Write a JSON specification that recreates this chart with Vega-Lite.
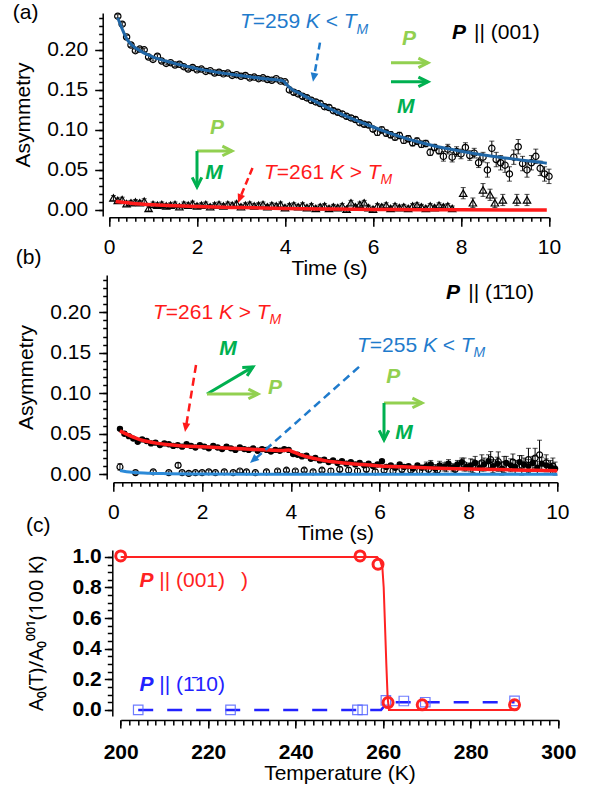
{
"$schema": "https://vega.github.io/schema/vega-lite/v6.json",
"background": "white",
"autosize": {"type": "none"},
"padding": {"left": 112.3, "top": 13, "right": 478.7, "bottom": 774},
"bounds": "flush",
"spacing": 59,
"config": {
 "view": {"stroke": null},
 "axis": {"domainColor": "black", "domainWidth": 1.5, "tickColor": "black", "tickWidth": 1.5, "labelColor": "black", "titleColor": "black", "labelFont": "Liberation Sans", "titleFont": "Liberation Sans", "labelFontSize": 21, "titleFontSize": 21, "titleFontWeight": "normal", "grid": false, "labelOverlap": false, "labelFlush": false, "labelBound": false}
},
"datasets": {
 "a259": [
{"t":0.2,"a":0.242,"e":0.002},{"t":0.3,"a":0.232,"e":0.002},{"t":0.4,"a":0.216,"e":0.002},{"t":0.5,"a":0.206,"e":0.002},{"t":0.6,"a":0.199,"e":0.002},{"t":0.7,"a":0.201,"e":0.002},{"t":0.8,"a":0.2,"e":0.002},{"t":0.9,"a":0.191,"e":0.002},{"t":1.0,"a":0.188,"e":0.002},{"t":1.1,"a":0.192,"e":0.002},{"t":1.2,"a":0.186,"e":0.002},{"t":1.3,"a":0.183,"e":0.002},{"t":1.4,"a":0.184,"e":0.002},{"t":1.5,"a":0.181,"e":0.002},{"t":1.6,"a":0.182,"e":0.002},{"t":1.7,"a":0.179,"e":0.002},{"t":1.8,"a":0.176,"e":0.002},{"t":1.9,"a":0.178,"e":0.002},{"t":2.0,"a":0.175,"e":0.002},{"t":2.1,"a":0.176,"e":0.002},{"t":2.2,"a":0.173,"e":0.002},{"t":2.3,"a":0.174,"e":0.002},{"t":2.4,"a":0.171,"e":0.002},{"t":2.5,"a":0.172,"e":0.002},{"t":2.6,"a":0.17,"e":0.002},{"t":2.7,"a":0.171,"e":0.002},{"t":2.8,"a":0.168,"e":0.002},{"t":2.9,"a":0.169,"e":0.002},{"t":3.0,"a":0.167,"e":0.002},{"t":3.1,"a":0.168,"e":0.002},{"t":3.2,"a":0.165,"e":0.002},{"t":3.3,"a":0.166,"e":0.002},{"t":3.4,"a":0.164,"e":0.002},{"t":3.5,"a":0.165,"e":0.002},{"t":3.6,"a":0.163,"e":0.002},{"t":3.7,"a":0.162,"e":0.002},{"t":3.8,"a":0.164,"e":0.002},{"t":3.9,"a":0.161,"e":0.002},{"t":4.0,"a":0.16,"e":0.002},{"t":4.1,"a":0.15,"e":0.003},{"t":4.2,"a":0.147,"e":0.003},{"t":4.3,"a":0.145,"e":0.003},{"t":4.4,"a":0.142,"e":0.003},{"t":4.5,"a":0.14,"e":0.003},{"t":4.6,"a":0.137,"e":0.003},{"t":4.7,"a":0.135,"e":0.003},{"t":4.8,"a":0.133,"e":0.003},{"t":4.9,"a":0.129,"e":0.003},{"t":5.0,"a":0.128,"e":0.003},{"t":5.1,"a":0.124,"e":0.003},{"t":5.2,"a":0.122,"e":0.003},{"t":5.3,"a":0.12,"e":0.003},{"t":5.4,"a":0.117,"e":0.003},{"t":5.5,"a":0.115,"e":0.003},{"t":5.6,"a":0.113,"e":0.003},{"t":5.7,"a":0.109,"e":0.003},{"t":5.8,"a":0.107,"e":0.003},{"t":5.9,"a":0.106,"e":0.003},{"t":6.0,"a":0.101,"e":0.003},{"t":6.1,"a":0.097,"e":0.004},{"t":6.2,"a":0.1,"e":0.004},{"t":6.3,"a":0.096,"e":0.004},{"t":6.4,"a":0.094,"e":0.004},{"t":6.5,"a":0.091,"e":0.004},{"t":6.6,"a":0.093,"e":0.004},{"t":6.7,"a":0.087,"e":0.004},{"t":6.8,"a":0.089,"e":0.004},{"t":6.9,"a":0.084,"e":0.004},{"t":7.0,"a":0.086,"e":0.004},{"t":7.1,"a":0.082,"e":0.004},{"t":7.2,"a":0.083,"e":0.004},{"t":7.3,"a":0.072,"e":0.004},{"t":7.4,"a":0.078,"e":0.004},{"t":7.5,"a":0.074,"e":0.004},{"t":7.6,"a":0.067,"e":0.006},{"t":7.7,"a":0.076,"e":0.006},{"t":7.8,"a":0.066,"e":0.006},{"t":7.9,"a":0.073,"e":0.006},{"t":8.0,"a":0.07,"e":0.006},{"t":8.1,"a":0.078,"e":0.006},{"t":8.2,"a":0.068,"e":0.006},{"t":8.3,"a":0.071,"e":0.006},{"t":8.4,"a":0.059,"e":0.006},{"t":8.5,"a":0.066,"e":0.006},{"t":8.6,"a":0.05,"e":0.009},{"t":8.7,"a":0.077,"e":0.009},{"t":8.8,"a":0.063,"e":0.009},{"t":8.9,"a":0.059,"e":0.009},{"t":9.0,"a":0.056,"e":0.009},{"t":9.1,"a":0.045,"e":0.009},{"t":9.2,"a":0.066,"e":0.009},{"t":9.3,"a":0.079,"e":0.009},{"t":9.4,"a":0.058,"e":0.009},{"t":9.5,"a":0.05,"e":0.009},{"t":9.6,"a":0.059,"e":0.009},{"t":9.7,"a":0.067,"e":0.009},{"t":9.8,"a":0.052,"e":0.009},{"t":9.9,"a":0.045,"e":0.009},{"t":10.0,"a":0.042,"e":0.009}
 ],
 "a259fit": [
{"t":0.2,"a":0.24},{"t":0.3,"a":0.226},{"t":0.4,"a":0.214},{"t":0.5,"a":0.207},{"t":0.6,"a":0.2025},{"t":0.7,"a":0.199},{"t":0.8,"a":0.196},{"t":0.9,"a":0.1935},{"t":1.0,"a":0.191},{"t":1.2,"a":0.1875},{"t":1.4,"a":0.1845},{"t":1.6,"a":0.1815},{"t":1.8,"a":0.179},{"t":2.0,"a":0.1765},{"t":2.4,"a":0.1725},{"t":2.8,"a":0.1693},{"t":3.2,"a":0.1663},{"t":3.6,"a":0.1635},{"t":3.95,"a":0.1615},{"t":4.05,"a":0.156},{"t":4.15,"a":0.151},{"t":4.3,"a":0.1465},{"t":4.6,"a":0.138},{"t":5.0,"a":0.127},{"t":5.4,"a":0.117},{"t":5.8,"a":0.108},{"t":6.2,"a":0.0995},{"t":6.6,"a":0.092},{"t":7.0,"a":0.0855},{"t":7.4,"a":0.08},{"t":7.8,"a":0.0755},{"t":8.2,"a":0.0715},{"t":8.6,"a":0.068},{"t":9.0,"a":0.065},{"t":9.4,"a":0.0622},{"t":9.8,"a":0.0595},{"t":9.95,"a":0.0585}
 ],
 "a261": [
{"t":0.1,"a":0.015,"e":0.003},{"t":0.2,"a":0.012,"e":0.003},{"t":0.3,"a":0.013,"e":0.003},{"t":0.4,"a":0.008,"e":0.003},{"t":0.5,"a":0.009,"e":0.003},{"t":0.6,"a":0.01,"e":0.003},{"t":0.7,"a":0.009,"e":0.003},{"t":0.8,"a":0.011,"e":0.003},{"t":0.9,"a":0.002,"e":0.003},{"t":1.0,"a":0.007,"e":0.003},{"t":1.1,"a":0.006,"e":0.003},{"t":1.2,"a":0.007,"e":0.003},{"t":1.3,"a":0.005,"e":0.003},{"t":1.4,"a":0.006,"e":0.003},{"t":1.5,"a":0.007,"e":0.003},{"t":1.6,"a":0.004,"e":0.003},{"t":1.7,"a":0.007,"e":0.003},{"t":1.8,"a":0.006,"e":0.003},{"t":1.9,"a":0.008,"e":0.003},{"t":2.0,"a":0.005,"e":0.003},{"t":2.1,"a":0.006,"e":0.003},{"t":2.2,"a":0.007,"e":0.003},{"t":2.3,"a":0.004,"e":0.003},{"t":2.4,"a":0.006,"e":0.003},{"t":2.5,"a":0.007,"e":0.003},{"t":2.6,"a":0.005,"e":0.003},{"t":2.7,"a":0.007,"e":0.003},{"t":2.8,"a":0.006,"e":0.003},{"t":2.9,"a":0.008,"e":0.003},{"t":3.0,"a":0.004,"e":0.003},{"t":3.1,"a":0.006,"e":0.003},{"t":3.2,"a":0.007,"e":0.003},{"t":3.3,"a":0.005,"e":0.003},{"t":3.4,"a":0.006,"e":0.003},{"t":3.5,"a":0.007,"e":0.003},{"t":3.6,"a":0.004,"e":0.003},{"t":3.7,"a":0.006,"e":0.003},{"t":3.8,"a":0.005,"e":0.003},{"t":3.9,"a":0.007,"e":0.003},{"t":4.0,"a":0.003,"e":0.003},{"t":4.1,"a":0.005,"e":0.003},{"t":4.2,"a":0.006,"e":0.003},{"t":4.3,"a":0.004,"e":0.003},{"t":4.4,"a":0.006,"e":0.003},{"t":4.5,"a":0.003,"e":0.003},{"t":4.6,"a":0.005,"e":0.003},{"t":4.7,"a":0.002,"e":0.003},{"t":4.8,"a":0.004,"e":0.003},{"t":4.9,"a":0.005,"e":0.003},{"t":5.0,"a":0.002,"e":0.003},{"t":5.1,"a":0.004,"e":0.003},{"t":5.2,"a":0.003,"e":0.003},{"t":5.3,"a":0.005,"e":0.003},{"t":5.4,"a":0.001,"e":0.003},{"t":5.5,"a":0.009,"e":0.003},{"t":5.6,"a":0.004,"e":0.003},{"t":5.7,"a":0.007,"e":0.003},{"t":5.8,"a":0.009,"e":0.003},{"t":5.9,"a":0.003,"e":0.003},{"t":6.0,"a":0.001,"e":0.003},{"t":6.1,"a":0.005,"e":0.003},{"t":6.2,"a":0.004,"e":0.003},{"t":6.3,"a":0.006,"e":0.003},{"t":6.4,"a":0.002,"e":0.003},{"t":6.5,"a":0.005,"e":0.003},{"t":6.6,"a":0.003,"e":0.003},{"t":6.7,"a":0.004,"e":0.003},{"t":6.8,"a":0.002,"e":0.003},{"t":6.9,"a":0.005,"e":0.003},{"t":7.0,"a":0.006,"e":0.003},{"t":7.1,"a":0.004,"e":0.003},{"t":7.2,"a":0.002,"e":0.003},{"t":7.3,"a":0.005,"e":0.003},{"t":7.4,"a":0.003,"e":0.003},{"t":7.5,"a":0.006,"e":0.003},{"t":7.6,"a":0.004,"e":0.003},{"t":7.7,"a":0.005,"e":0.003},{"t":7.8,"a":0.002,"e":0.003},{"t":8.05,"a":0.021,"e":0.007},{"t":8.27,"a":0.009,"e":0.006},{"t":8.5,"a":0.025,"e":0.008},{"t":8.66,"a":0.019,"e":0.007},{"t":8.77,"a":0.009,"e":0.006},{"t":8.95,"a":0.0125,"e":0.007},{"t":9.27,"a":0.0125,"e":0.007},{"t":9.5,"a":0.0125,"e":0.007}
 ],
 "a261fit": [
{"t":0.15,"a":0.0105},{"t":0.5,"a":0.0085},{"t":1,"a":0.0065},{"t":1.5,"a":0.0052},{"t":2,"a":0.0043},{"t":3,"a":0.003},{"t":4,"a":0.002},{"t":5,"a":0.0012},{"t":6,"a":0.0007},{"t":7,"a":0.0004},{"t":8,"a":0.0002},{"t":9.95,"a":0}
 ],
 "b261": [
{"t":0.15,"a":0.056,"e":0.002},{"t":0.25,"a":0.05,"e":0.002},{"t":0.35,"a":0.047,"e":0.002},{"t":0.45,"a":0.044,"e":0.002},{"t":0.55,"a":0.04,"e":0.002},{"t":0.65,"a":0.043,"e":0.002},{"t":0.75,"a":0.041,"e":0.002},{"t":0.85,"a":0.038,"e":0.002},{"t":0.95,"a":0.039,"e":0.002},{"t":1.05,"a":0.036,"e":0.002},{"t":1.15,"a":0.038,"e":0.002},{"t":1.25,"a":0.037,"e":0.002},{"t":1.35,"a":0.035,"e":0.002},{"t":1.45,"a":0.036,"e":0.002},{"t":1.55,"a":0.034,"e":0.002},{"t":1.65,"a":0.037,"e":0.002},{"t":1.75,"a":0.035,"e":0.002},{"t":1.85,"a":0.033,"e":0.002},{"t":1.95,"a":0.036,"e":0.002},{"t":2.05,"a":0.034,"e":0.002},{"t":2.15,"a":0.032,"e":0.002},{"t":2.25,"a":0.035,"e":0.002},{"t":2.35,"a":0.033,"e":0.002},{"t":2.45,"a":0.031,"e":0.002},{"t":2.55,"a":0.034,"e":0.002},{"t":2.65,"a":0.032,"e":0.002},{"t":2.75,"a":0.03,"e":0.002},{"t":2.85,"a":0.033,"e":0.002},{"t":2.95,"a":0.031,"e":0.002},{"t":3.05,"a":0.03,"e":0.002},{"t":3.15,"a":0.032,"e":0.002},{"t":3.25,"a":0.029,"e":0.002},{"t":3.35,"a":0.031,"e":0.002},{"t":3.45,"a":0.03,"e":0.002},{"t":3.55,"a":0.028,"e":0.002},{"t":3.65,"a":0.03,"e":0.002},{"t":3.75,"a":0.029,"e":0.002},{"t":3.85,"a":0.031,"e":0.002},{"t":3.95,"a":0.03,"e":0.002},{"t":4.05,"a":0.025,"e":0.002},{"t":4.15,"a":0.024,"e":0.002},{"t":4.25,"a":0.022,"e":0.002},{"t":4.35,"a":0.023,"e":0.002},{"t":4.45,"a":0.019,"e":0.002},{"t":4.55,"a":0.02,"e":0.002},{"t":4.65,"a":0.017,"e":0.002},{"t":4.75,"a":0.018,"e":0.002},{"t":4.85,"a":0.015,"e":0.002},{"t":4.95,"a":0.017,"e":0.002},{"t":5.05,"a":0.014,"e":0.002},{"t":5.15,"a":0.016,"e":0.002},{"t":5.25,"a":0.013,"e":0.002},{"t":5.35,"a":0.015,"e":0.002},{"t":5.45,"a":0.012,"e":0.002},{"t":5.55,"a":0.014,"e":0.002},{"t":5.65,"a":0.011,"e":0.002},{"t":5.75,"a":0.013,"e":0.002},{"t":5.85,"a":0.01,"e":0.002},{"t":5.95,"a":0.012,"e":0.002},{"t":6.05,"a":0.016,"e":0.002},{"t":6.15,"a":0.009,"e":0.002},{"t":6.25,"a":0.011,"e":0.002},{"t":6.35,"a":0.008,"e":0.002},{"t":6.45,"a":0.012,"e":0.002},{"t":6.55,"a":0.009,"e":0.002},{"t":6.65,"a":0.01,"e":0.002},{"t":6.75,"a":0.007,"e":0.002},{"t":6.85,"a":0.011,"e":0.002},{"t":6.95,"a":0.008,"e":0.002},{"t":7.05,"a":0.01,"e":0.005},{"t":7.15,"a":0.012,"e":0.005},{"t":7.25,"a":0.007,"e":0.005},{"t":7.35,"a":0.011,"e":0.005},{"t":7.45,"a":0.009,"e":0.005},{"t":7.55,"a":0.013,"e":0.005},{"t":7.65,"a":0.008,"e":0.005},{"t":7.75,"a":0.012,"e":0.005},{"t":7.85,"a":0.015,"e":0.005},{"t":7.95,"a":0.009,"e":0.005},{"t":8.05,"a":0.011,"e":0.008},{"t":8.15,"a":0.014,"e":0.008},{"t":8.25,"a":0.008,"e":0.008},{"t":8.35,"a":0.012,"e":0.008},{"t":8.45,"a":0.016,"e":0.008},{"t":8.55,"a":0.01,"e":0.008},{"t":8.65,"a":0.013,"e":0.008},{"t":8.75,"a":0.007,"e":0.008},{"t":8.85,"a":0.014,"e":0.008},{"t":8.95,"a":0.011,"e":0.008},{"t":9.05,"a":0.009,"e":0.008},{"t":9.15,"a":0.015,"e":0.008},{"t":9.25,"a":0.012,"e":0.008},{"t":9.35,"a":0.01,"e":0.008},{"t":9.45,"a":0.014,"e":0.008},{"t":9.55,"a":0.008,"e":0.008},{"t":9.65,"a":0.013,"e":0.008},{"t":9.75,"a":0.011,"e":0.008},{"t":9.85,"a":0.009,"e":0.008},{"t":9.95,"a":0.007,"e":0.008}
 ],
 "b261fit": [
{"t":0.15,"a":0.0535},{"t":0.3,"a":0.0495},{"t":0.45,"a":0.0458},{"t":0.6,"a":0.0428},{"t":0.8,"a":0.04},{"t":1.0,"a":0.0381},{"t":1.2,"a":0.0367},{"t":1.5,"a":0.0352},{"t":2.0,"a":0.0338},{"t":2.5,"a":0.0325},{"t":3.0,"a":0.0312},{"t":3.5,"a":0.0298},{"t":3.8,"a":0.0292},{"t":3.95,"a":0.0298},{"t":4.05,"a":0.0275},{"t":4.2,"a":0.0243},{"t":4.5,"a":0.0197},{"t":4.8,"a":0.0165},{"t":5.2,"a":0.0139},{"t":5.6,"a":0.012},{"t":6.0,"a":0.0103},{"t":6.5,"a":0.0091},{"t":7.0,"a":0.0081},{"t":7.5,"a":0.0072},{"t":8.0,"a":0.0065},{"t":8.5,"a":0.0059},{"t":9.0,"a":0.0053},{"t":9.5,"a":0.0048},{"t":10.0,"a":0.0043}
 ],
 "b255": [
{"t":0.15,"a":0.009,"e":0.004},{"t":0.5,"a":0.002,"e":0.002},{"t":0.9,"a":0.003,"e":0.002},{"t":1.25,"a":0.002,"e":0.002},{"t":1.46,"a":0.011,"e":0.003},{"t":1.55,"a":0.002,"e":0.002},{"t":1.7,"a":0.001,"e":0.002},{"t":1.85,"a":0.002,"e":0.002},{"t":2.0,"a":0.002,"e":0.002},{"t":2.15,"a":0.003,"e":0.002},{"t":2.3,"a":0.002,"e":0.002},{"t":2.5,"a":0.003,"e":0.002},{"t":2.7,"a":0.002,"e":0.002},{"t":2.85,"a":0.004,"e":0.002},{"t":3.0,"a":0.003,"e":0.002},{"t":3.2,"a":0.002,"e":0.002},{"t":3.45,"a":0.003,"e":0.002},{"t":3.7,"a":0.004,"e":0.002},{"t":3.9,"a":0.005,"e":0.002},{"t":4.1,"a":0.004,"e":0.002},{"t":4.3,"a":0.005,"e":0.002},{"t":4.5,"a":0.003,"e":0.002},{"t":4.7,"a":0.005,"e":0.002},{"t":4.9,"a":0.004,"e":0.003},{"t":5.1,"a":0.006,"e":0.003},{"t":5.3,"a":0.005,"e":0.003},{"t":5.5,"a":0.004,"e":0.003},{"t":5.7,"a":0.006,"e":0.003},{"t":5.9,"a":0.003,"e":0.003},{"t":6.1,"a":0.005,"e":0.003},{"t":6.3,"a":0.004,"e":0.003},{"t":6.5,"a":0.006,"e":0.004},{"t":6.7,"a":0.005,"e":0.004},{"t":6.9,"a":0.004,"e":0.004},{"t":7.1,"a":0.006,"e":0.005},{"t":7.3,"a":0.005,"e":0.005},{"t":7.5,"a":0.009,"e":0.006},{"t":7.7,"a":0.006,"e":0.006},{"t":7.9,"a":0.012,"e":0.008},{"t":8.1,"a":0.01,"e":0.008},{"t":8.3,"a":0.014,"e":0.01},{"t":8.5,"a":0.018,"e":0.01},{"t":8.67,"a":0.0156,"e":0.012},{"t":8.8,"a":0.012,"e":0.01},{"t":9.0,"a":0.015,"e":0.01},{"t":9.2,"a":0.011,"e":0.012},{"t":9.35,"a":0.018,"e":0.014},{"t":9.5,"a":0.02,"e":0.012},{"t":9.6,"a":0.024,"e":0.018},{"t":9.75,"a":0.014,"e":0.01},{"t":9.9,"a":0.01,"e":0.01}
 ],
 "b255fit": [
{"t":0.15,"a":0.0045},{"t":0.3,"a":0.003},{"t":0.5,"a":0.002},{"t":0.8,"a":0.0012},{"t":1.2,"a":0.0007},{"t":2,"a":0.0003},{"t":3,"a":0.0001},{"t":5,"a":0},{"t":10,"a":0}
 ],
 "c001": [
{"T":200,"v":1.006},{"T":254.7,"v":1.006},{"T":258.8,"v":0.952},{"T":261.1,"v":0.048},{"T":268.9,"v":0.033},{"T":290,"v":0.033}
 ],
 "c001fit": [
{"T":200,"v":1.0},{"T":258.6,"v":1.0},{"T":259.3,"v":0.975},{"T":259.8,"v":0.93},{"T":260.1,"v":0.8},{"T":260.4,"v":0.55},{"T":260.7,"v":0.3},{"T":261.0,"v":0.08},{"T":261.3,"v":0.0},{"T":290,"v":0.0}
 ],
 "c110": [
{"T":204,"v":0.0},{"T":225.1,"v":0.0},{"T":254.1,"v":0.0},{"T":255.3,"v":0.0},{"T":260.6,"v":0.062},{"T":264.7,"v":0.058},{"T":269.6,"v":0.05},{"T":290,"v":0.059}
 ],
 "c110fit": [
{"T":204,"v":0},{"T":259.5,"v":0},{"T":261,"v":0.05},{"T":290,"v":0.05}
 ],
 "txt": [
{"p":"a","x":2.977,"y":0.235,"s":"T","c":"blue","f":"it"},
{"p":"a","x":3.268,"y":0.235,"s":"=259","c":"blue","f":"up"},
{"p":"a","x":4.473,"y":0.235,"s":"K","c":"blue","f":"it"},
{"p":"a","x":4.925,"y":0.235,"s":"<","c":"blue","f":"up"},
{"p":"a","x":5.336,"y":0.235,"s":"T","c":"blue","f":"it"},
{"p":"a","x":5.625,"y":0.225,"s":"M","c":"blue","f":"sub"},
{"p":"a","x":3.523,"y":0.04625,"s":"T","c":"red","f":"it"},
{"p":"a","x":3.814,"y":0.04625,"s":"=261","c":"red","f":"up"},
{"p":"a","x":5.02,"y":0.04625,"s":"K","c":"red","f":"it"},
{"p":"a","x":5.47,"y":0.04625,"s":">","c":"red","f":"up"},
{"p":"a","x":5.882,"y":0.04625,"s":"T","c":"red","f":"it"},
{"p":"a","x":6.173,"y":0.0375,"s":"M","c":"red","f":"sub"},
{"p":"a","x":2.455,"y":0.1025,"s":"P","c":"lgreen","f":"bic"},
{"p":"a","x":2.386,"y":0.04625,"s":"M","c":"dgreen","f":"bic"},
{"p":"a","x":6.818,"y":0.21375,"s":"P","c":"lgreen","f":"bic"},
{"p":"a","x":6.743,"y":0.129,"s":"M","c":"dgreen","f":"bic"},
{"p":"a","x":7.795,"y":0.221,"s":"P","c":"black","f":"bi"},
{"p":"a","x":8.295,"y":0.221,"s":"|| (001)","c":"black","f":"up"},
{"p":"b","x":7.493,"y":0.2238,"s":"P","c":"black","f":"bi"},
{"p":"b","x":7.995,"y":0.2238,"s":"|| (1\u030410)","c":"black","f":"up"},
{"p":"b","x":0.896,"y":0.1991,"s":"T","c":"red","f":"it"},
{"p":"b","x":1.182,"y":0.1991,"s":"=261","c":"red","f":"up"},
{"p":"b","x":2.378,"y":0.1991,"s":"K","c":"red","f":"it"},
{"p":"b","x":2.824,"y":0.1991,"s":">","c":"red","f":"up"},
{"p":"b","x":3.232,"y":0.1991,"s":"T","c":"red","f":"it"},
{"p":"b","x":3.52,"y":0.1905,"s":"M","c":"red","f":"sub"},
{"p":"b","x":5.489,"y":0.1584,"s":"T","c":"blue","f":"it"},
{"p":"b","x":5.777,"y":0.1584,"s":"=255","c":"blue","f":"up"},
{"p":"b","x":6.973,"y":0.1584,"s":"K","c":"blue","f":"it"},
{"p":"b","x":7.419,"y":0.1584,"s":"<","c":"blue","f":"up"},
{"p":"b","x":7.827,"y":0.1584,"s":"T","c":"blue","f":"it"},
{"p":"b","x":8.115,"y":0.1498,"s":"M","c":"blue","f":"sub"},
{"p":"b","x":2.583,"y":0.1543,"s":"M","c":"dgreen","f":"bic"},
{"p":"b","x":3.642,"y":0.1062,"s":"P","c":"lgreen","f":"bic"},
{"p":"b","x":6.306,"y":0.1198,"s":"P","c":"lgreen","f":"bic"},
{"p":"b","x":6.547,"y":0.0514,"s":"M","c":"dgreen","f":"bic"},
{"p":"c","x":204.3,"y":0.84,"s":"P","c":"cred","f":"bi"},
{"p":"c","x":208.8,"y":0.84,"s":"|| (001)","c":"cred","f":"up"},
{"p":"c","x":227.5,"y":0.84,"s":")","c":"cred","f":"up"},
{"p":"c","x":204.3,"y":0.164,"s":"P","c":"cblue","f":"bi"},
{"p":"c","x":208.8,"y":0.164,"s":"|| (1\u030410)","c":"cblue","f":"up"}
 ],
 "arrows": [
{"p":"a","x":4.795,"y":0.209,"x2":4.659,"y2":0.166,"tx":4.636,"ty":0.16,"c":"blue","k":"dash","hd":100},
{"p":"a","x":3.261,"y":0.0525,"x2":2.977,"y2":0.015,"tx":2.932,"ty":0.00875,"c":"red","k":"dash","hd":112},
{"p":"a","x":6.409,"y":0.18375,"x2":7.25,"y2":0.18375,"tx":7.25,"ty":0.18375,"c":"lgreen","k":"solid","hd":0},
{"p":"a","x":6.409,"y":0.16,"x2":7.25,"y2":0.16,"tx":7.25,"ty":0.16,"c":"dgreen","k":"solid","hd":0},
{"p":"a","x":2.0,"y":0.07375,"x2":2.795,"y2":0.07375,"tx":2.795,"ty":0.07375,"c":"lgreen","k":"solid","hd":0},
{"p":"a","x":2.0,"y":0.07375,"x2":2.0,"y2":0.02875,"tx":2.0,"ty":0.02875,"c":"dgreen","k":"solid","hd":90},
{"p":"b","x":1.863,"y":0.1349,"x2":1.637,"y2":0.0584,"tx":1.615,"ty":0.0522,"c":"red","k":"dash","hd":99},
{"p":"b","x":5.534,"y":0.1325,"x2":3.169,"y2":0.01765,"tx":3.079,"ty":0.01395,"c":"blue","k":"dash","hd":139},
{"p":"b","x":2.11,"y":0.0991,"x2":3.146,"y2":0.1325,"tx":3.146,"ty":0.1325,"c":"dgreen","k":"solid","hd":330},
{"p":"b","x":2.11,"y":0.0991,"x2":3.259,"y2":0.0991,"tx":3.259,"ty":0.0991,"c":"lgreen","k":"solid","hd":0},
{"p":"b","x":6.097,"y":0.088,"x2":6.953,"y2":0.088,"tx":6.953,"ty":0.088,"c":"lgreen","k":"solid","hd":0},
{"p":"b","x":6.097,"y":0.088,"x2":6.097,"y2":0.0423,"tx":6.097,"ty":0.0423,"c":"dgreen","k":"solid","hd":90}
 ]
},
"vconcat": [
{
 "width": 446, "height": 203,
 "title": {"text": "(a)", "anchor": "start", "frame": "bounds", "baseline": "middle", "offset": -23, "fontSize": 21, "fontWeight": "normal", "font": "Liberation Sans", "color": "black"},
 "resolve": {"axis": {"x": "independent", "y": "independent"}},
 "layer": [
  {"data": {"name": "a259"}, "mark": {"type": "errorbar", "ticks": true, "size": 5, "thickness": 1, "color": "black"},
   "encoding": {"x": {"field": "t", "type": "quantitative", "axis": null}, "y": {"field": "a", "type": "quantitative", "axis": null}, "yError": {"field": "e"}}},
  {"data": {"name": "a259"}, "mark": {"type": "point", "shape": "circle", "filled": false, "color": "black", "strokeWidth": 1.2, "size": 40, "opacity": 1},
   "encoding": {
    "x": {"field": "t", "type": "quantitative", "scale": {"domain": [0, 10], "range": [-3.3, 436.7], "nice": false, "zero": false},
     "axis": {"orient": "bottom", "title": "Time (s)", "values": [0,2,4,6,8,10], "format": "d", "offset": 1.3, "tickSize": 9, "labelPadding": 10, "titlePadding": 0}},
    "y": {"field": "a", "type": "quantitative", "scale": {"domain": [-0.0075, 0.246], "nice": false, "zero": false},
     "axis": {"orient": "left", "title": "Asymmetry", "values": [0,0.05,0.1,0.15,0.2], "format": ".2f", "offset": 9.6, "tickSize": 8, "labelPadding": 7, "titlePadding": 13}}
   }},
  {"data": {"name": "a261"}, "mark": {"type": "errorbar", "ticks": true, "size": 5, "thickness": 1, "color": "black"},
   "encoding": {"x": {"field": "t", "type": "quantitative", "axis": null}, "y": {"field": "a", "type": "quantitative", "axis": null}, "yError": {"field": "e"}}},
  {"data": {"name": "a261"}, "mark": {"type": "point", "shape": "triangle-up", "filled": false, "color": "black", "strokeWidth": 1.2, "size": 55, "opacity": 1},
   "encoding": {"x": {"field": "t", "type": "quantitative", "axis": null}, "y": {"field": "a", "type": "quantitative", "axis": null}}},
  {"data": {"name": "a259fit"}, "mark": {"type": "line", "color": "#1f66a6", "strokeWidth": 3, "interpolate": "monotone"},
   "encoding": {
    "x": {"field": "t", "type": "quantitative", "axis": {"orient": "bottom", "values": [0,0.2,0.4,0.6,0.8,1,1.2,1.4,1.6,1.8,2,2.2,2.4,2.6,2.8,3,3.2,3.4,3.6,3.8,4,4.2,4.4,4.6,4.8,5,5.2,5.4,5.6,5.8,6,6.2,6.4,6.6,6.8,7,7.2,7.4,7.6,7.8,8,8.2,8.4,8.6,8.8,9,9.2,9.4,9.6,9.8,10], "labels": false, "domain": false, "title": null, "tickSize": 4, "offset": 1.3}},
    "y": {"field": "a", "type": "quantitative", "axis": {"orient": "left", "values": [0,0.01,0.02,0.03,0.04,0.05,0.06,0.07,0.08,0.09,0.1,0.11,0.12,0.13,0.14,0.15,0.16,0.17,0.18,0.19,0.2,0.21,0.22,0.23,0.24], "labels": false, "domain": false, "title": null, "tickSize": 4, "offset": 9.6}}}},
  {"data": {"name": "a261fit"}, "mark": {"type": "line", "color": "#ff1a1a", "strokeWidth": 3.5, "interpolate": "monotone"},
   "encoding": {"x": {"field": "t", "type": "quantitative", "axis": null}, "y": {"field": "a", "type": "quantitative", "axis": null}}},
  {"data": {"name": "txt"}, "transform": [{"filter": "datum.p==='a' && datum.f==='it'"}],
   "mark": {"type": "text", "font": "Liberation Sans", "fontSize": 21, "fontStyle": "italic", "align": "left", "baseline": "middle"},
   "encoding": {"x": {"field": "x", "type": "quantitative", "axis": null}, "y": {"field": "y", "type": "quantitative", "axis": null}, "text": {"field": "s"},
    "color": {"field": "c", "type": "nominal", "legend": null, "scale": {"domain": ["blue","red","lgreen","dgreen","black","cred","cblue"], "range": ["#1f7bcc","#ff1a1a","#92d050","#00b050","#000000","#ff2222","#2222ff"]}}}},
  {"data": {"name": "txt"}, "transform": [{"filter": "datum.p==='a' && datum.f==='up'"}],
   "mark": {"type": "text", "font": "Liberation Sans", "fontSize": 21, "align": "left", "baseline": "middle"},
   "encoding": {"x": {"field": "x", "type": "quantitative", "axis": null}, "y": {"field": "y", "type": "quantitative", "axis": null}, "text": {"field": "s"},
    "color": {"field": "c", "type": "nominal", "legend": null, "scale": {"domain": ["blue","red","lgreen","dgreen","black","cred","cblue"], "range": ["#1f7bcc","#ff1a1a","#92d050","#00b050","#000000","#ff2222","#2222ff"]}}}},
  {"data": {"name": "txt"}, "transform": [{"filter": "datum.p==='a' && datum.f==='sub'"}],
   "mark": {"type": "text", "font": "Liberation Sans", "fontSize": 14, "fontStyle": "italic", "align": "left", "baseline": "middle"},
   "encoding": {"x": {"field": "x", "type": "quantitative", "axis": null}, "y": {"field": "y", "type": "quantitative", "axis": null}, "text": {"field": "s"},
    "color": {"field": "c", "type": "nominal", "legend": null, "scale": {"domain": ["blue","red","lgreen","dgreen","black","cred","cblue"], "range": ["#1f7bcc","#ff1a1a","#92d050","#00b050","#000000","#ff2222","#2222ff"]}}}},
  {"data": {"name": "txt"}, "transform": [{"filter": "datum.p==='a' && datum.f==='bi'"}],
   "mark": {"type": "text", "font": "Liberation Sans", "fontSize": 21, "fontStyle": "italic", "fontWeight": "bold", "align": "left", "baseline": "middle"},
   "encoding": {"x": {"field": "x", "type": "quantitative", "axis": null}, "y": {"field": "y", "type": "quantitative", "axis": null}, "text": {"field": "s"},
    "color": {"field": "c", "type": "nominal", "legend": null, "scale": {"domain": ["blue","red","lgreen","dgreen","black","cred","cblue"], "range": ["#1f7bcc","#ff1a1a","#92d050","#00b050","#000000","#ff2222","#2222ff"]}}}},
  {"data": {"name": "txt"}, "transform": [{"filter": "datum.p==='a' && datum.f==='bic'"}],
   "mark": {"type": "text", "font": "Liberation Sans", "fontSize": 21, "fontStyle": "italic", "fontWeight": "bold", "align": "center", "baseline": "middle"},
   "encoding": {"x": {"field": "x", "type": "quantitative", "axis": null}, "y": {"field": "y", "type": "quantitative", "axis": null}, "text": {"field": "s"},
    "color": {"field": "c", "type": "nominal", "legend": null, "scale": {"domain": ["blue","red","lgreen","dgreen","black","cred","cblue"], "range": ["#1f7bcc","#ff1a1a","#92d050","#00b050","#000000","#ff2222","#2222ff"]}}}},
  {"data": {"name": "arrows"}, "transform": [{"filter": "datum.p==='a' && datum.k==='dash'"}],
   "mark": {"type": "rule", "strokeWidth": 2.5, "strokeDash": [7, 4]},
   "encoding": {"x": {"field": "x", "type": "quantitative", "axis": null}, "y": {"field": "y", "type": "quantitative", "axis": null}, "x2": {"field": "x2"}, "y2": {"field": "y2"},
    "color": {"field": "c", "type": "nominal", "legend": null, "scale": {"domain": ["blue","red","lgreen","dgreen","black","cred","cblue"], "range": ["#1f7bcc","#ff1a1a","#92d050","#00b050","#000000","#ff2222","#2222ff"]}}}},
  {"data": {"name": "arrows"}, "transform": [{"filter": "datum.p==='a' && datum.k==='solid'"}],
   "mark": {"type": "rule", "strokeWidth": 3},
   "encoding": {"x": {"field": "x", "type": "quantitative", "axis": null}, "y": {"field": "y", "type": "quantitative", "axis": null}, "x2": {"field": "x2"}, "y2": {"field": "y2"},
    "color": {"field": "c", "type": "nominal", "legend": null, "scale": {"domain": ["blue","red","lgreen","dgreen","black","cred","cblue"], "range": ["#1f7bcc","#ff1a1a","#92d050","#00b050","#000000","#ff2222","#2222ff"]}}}},
  {"data": {"name": "arrows"}, "transform": [{"filter": "datum.p==='a' && datum.k==='dash'"}],
   "mark": {"type": "point", "shape": "M0,0L-3,-1.3L-3,1.3Z", "filled": true, "size": 36, "opacity": 1},
   "encoding": {"x": {"field": "tx", "type": "quantitative", "axis": null}, "y": {"field": "ty", "type": "quantitative", "axis": null}, "angle": {"field": "hd", "type": "quantitative", "scale": null},
    "color": {"field": "c", "type": "nominal", "legend": null, "scale": {"domain": ["blue","red","lgreen","dgreen","black","cred","cblue"], "range": ["#1f7bcc","#ff1a1a","#92d050","#00b050","#000000","#ff2222","#2222ff"]}}}},
  {"data": {"name": "arrows"}, "transform": [{"filter": "datum.p==='a' && datum.k==='solid'"}],
   "mark": {"type": "point", "shape": "M-3.2,-1.6L0,0L-3.2,1.6", "filled": false, "size": 36, "strokeWidth": 3, "opacity": 1},
   "encoding": {"x": {"field": "tx", "type": "quantitative", "axis": null}, "y": {"field": "ty", "type": "quantitative", "axis": null}, "angle": {"field": "hd", "type": "quantitative", "scale": null},
    "color": {"field": "c", "type": "nominal", "legend": null, "scale": {"domain": ["blue","red","lgreen","dgreen","black","cred","cblue"], "range": ["#1f7bcc","#ff1a1a","#92d050","#00b050","#000000","#ff2222","#2222ff"]}}}}
 ]
},
{
 "width": 446, "height": 204,
 "title": {"text": "(b)", "anchor": "start", "frame": "bounds", "baseline": "middle", "offset": -4, "fontSize": 21, "fontWeight": "normal", "font": "Liberation Sans", "color": "black"},
 "resolve": {"axis": {"x": "independent", "y": "independent"}},
 "layer": [
  {"data": {"name": "b255"}, "mark": {"type": "errorbar", "ticks": true, "size": 5, "thickness": 1, "color": "black"},
   "encoding": {"x": {"field": "t", "type": "quantitative", "axis": null}, "y": {"field": "a", "type": "quantitative", "axis": null}, "yError": {"field": "e"}}},
  {"data": {"name": "b255"}, "mark": {"type": "point", "shape": "circle", "filled": false, "color": "black", "strokeWidth": 1.2, "size": 36, "opacity": 1},
   "encoding": {"x": {"field": "t", "type": "quantitative", "axis": null}, "y": {"field": "a", "type": "quantitative", "axis": null}}},
  {"data": {"name": "b261"}, "mark": {"type": "errorbar", "ticks": true, "size": 5, "thickness": 1, "color": "black"},
   "encoding": {"x": {"field": "t", "type": "quantitative", "axis": null}, "y": {"field": "a", "type": "quantitative", "axis": null}, "yError": {"field": "e"}}},
  {"data": {"name": "b261"}, "mark": {"type": "point", "shape": "circle", "filled": true, "color": "black", "size": 40, "opacity": 1},
   "encoding": {
    "x": {"field": "t", "type": "quantitative", "scale": {"domain": [0, 10], "range": [1.0, 445.0], "nice": false, "zero": false},
     "axis": {"orient": "bottom", "title": "Time (s)", "values": [0,2,4,6,8,10], "format": "d", "offset": 3.3, "tickSize": 9, "labelPadding": 10, "titlePadding": 0}},
    "y": {"field": "a", "type": "quantitative", "scale": {"domain": [-0.0059, 0.246], "nice": false, "zero": false},
     "axis": {"orient": "left", "title": "Asymmetry", "values": [0,0.05,0.1,0.15,0.2], "format": ".2f", "offset": 5.6, "tickSize": 8, "labelPadding": 8, "titlePadding": 13}}
   }},
  {"data": {"name": "b255fit"}, "mark": {"type": "line", "color": "#2b8ad8", "strokeWidth": 3, "interpolate": "monotone"},
   "encoding": {
    "x": {"field": "t", "type": "quantitative", "axis": {"orient": "bottom", "values": [0,0.2,0.4,0.6,0.8,1,1.2,1.4,1.6,1.8,2,2.2,2.4,2.6,2.8,3,3.2,3.4,3.6,3.8,4,4.2,4.4,4.6,4.8,5,5.2,5.4,5.6,5.8,6,6.2,6.4,6.6,6.8,7,7.2,7.4,7.6,7.8,8,8.2,8.4,8.6,8.8,9,9.2,9.4,9.6,9.8,10], "labels": false, "domain": false, "title": null, "tickSize": 4, "offset": 3.3}},
    "y": {"field": "a", "type": "quantitative", "axis": {"orient": "left", "values": [0,0.01,0.02,0.03,0.04,0.05,0.06,0.07,0.08,0.09,0.1,0.11,0.12,0.13,0.14,0.15,0.16,0.17,0.18,0.19,0.2,0.21,0.22,0.23,0.24], "labels": false, "domain": false, "title": null, "tickSize": 4, "offset": 5.6}}}},
  {"data": {"name": "b261fit"}, "mark": {"type": "line", "color": "#ff1a1a", "strokeWidth": 3.5, "interpolate": "monotone"},
   "encoding": {"x": {"field": "t", "type": "quantitative", "axis": null}, "y": {"field": "a", "type": "quantitative", "axis": null}}},
  {"data": {"name": "txt"}, "transform": [{"filter": "datum.p==='b' && datum.f==='it'"}],
   "mark": {"type": "text", "font": "Liberation Sans", "fontSize": 21, "fontStyle": "italic", "align": "left", "baseline": "middle"},
   "encoding": {"x": {"field": "x", "type": "quantitative", "axis": null}, "y": {"field": "y", "type": "quantitative", "axis": null}, "text": {"field": "s"},
    "color": {"field": "c", "type": "nominal", "legend": null, "scale": {"domain": ["blue","red","lgreen","dgreen","black","cred","cblue"], "range": ["#1f7bcc","#ff1a1a","#92d050","#00b050","#000000","#ff2222","#2222ff"]}}}},
  {"data": {"name": "txt"}, "transform": [{"filter": "datum.p==='b' && datum.f==='up'"}],
   "mark": {"type": "text", "font": "Liberation Sans", "fontSize": 21, "align": "left", "baseline": "middle"},
   "encoding": {"x": {"field": "x", "type": "quantitative", "axis": null}, "y": {"field": "y", "type": "quantitative", "axis": null}, "text": {"field": "s"},
    "color": {"field": "c", "type": "nominal", "legend": null, "scale": {"domain": ["blue","red","lgreen","dgreen","black","cred","cblue"], "range": ["#1f7bcc","#ff1a1a","#92d050","#00b050","#000000","#ff2222","#2222ff"]}}}},
  {"data": {"name": "txt"}, "transform": [{"filter": "datum.p==='b' && datum.f==='sub'"}],
   "mark": {"type": "text", "font": "Liberation Sans", "fontSize": 14, "fontStyle": "italic", "align": "left", "baseline": "middle"},
   "encoding": {"x": {"field": "x", "type": "quantitative", "axis": null}, "y": {"field": "y", "type": "quantitative", "axis": null}, "text": {"field": "s"},
    "color": {"field": "c", "type": "nominal", "legend": null, "scale": {"domain": ["blue","red","lgreen","dgreen","black","cred","cblue"], "range": ["#1f7bcc","#ff1a1a","#92d050","#00b050","#000000","#ff2222","#2222ff"]}}}},
  {"data": {"name": "txt"}, "transform": [{"filter": "datum.p==='b' && datum.f==='bi'"}],
   "mark": {"type": "text", "font": "Liberation Sans", "fontSize": 21, "fontStyle": "italic", "fontWeight": "bold", "align": "left", "baseline": "middle"},
   "encoding": {"x": {"field": "x", "type": "quantitative", "axis": null}, "y": {"field": "y", "type": "quantitative", "axis": null}, "text": {"field": "s"},
    "color": {"field": "c", "type": "nominal", "legend": null, "scale": {"domain": ["blue","red","lgreen","dgreen","black","cred","cblue"], "range": ["#1f7bcc","#ff1a1a","#92d050","#00b050","#000000","#ff2222","#2222ff"]}}}},
  {"data": {"name": "txt"}, "transform": [{"filter": "datum.p==='b' && datum.f==='bic'"}],
   "mark": {"type": "text", "font": "Liberation Sans", "fontSize": 21, "fontStyle": "italic", "fontWeight": "bold", "align": "center", "baseline": "middle"},
   "encoding": {"x": {"field": "x", "type": "quantitative", "axis": null}, "y": {"field": "y", "type": "quantitative", "axis": null}, "text": {"field": "s"},
    "color": {"field": "c", "type": "nominal", "legend": null, "scale": {"domain": ["blue","red","lgreen","dgreen","black","cred","cblue"], "range": ["#1f7bcc","#ff1a1a","#92d050","#00b050","#000000","#ff2222","#2222ff"]}}}},
  {"data": {"name": "arrows"}, "transform": [{"filter": "datum.p==='b' && datum.k==='dash'"}],
   "mark": {"type": "rule", "strokeWidth": 2.5, "strokeDash": [8, 5]},
   "encoding": {"x": {"field": "x", "type": "quantitative", "axis": null}, "y": {"field": "y", "type": "quantitative", "axis": null}, "x2": {"field": "x2"}, "y2": {"field": "y2"},
    "color": {"field": "c", "type": "nominal", "legend": null, "scale": {"domain": ["blue","red","lgreen","dgreen","black","cred","cblue"], "range": ["#1f7bcc","#ff1a1a","#92d050","#00b050","#000000","#ff2222","#2222ff"]}}}},
  {"data": {"name": "arrows"}, "transform": [{"filter": "datum.p==='b' && datum.k==='solid'"}],
   "mark": {"type": "rule", "strokeWidth": 3},
   "encoding": {"x": {"field": "x", "type": "quantitative", "axis": null}, "y": {"field": "y", "type": "quantitative", "axis": null}, "x2": {"field": "x2"}, "y2": {"field": "y2"},
    "color": {"field": "c", "type": "nominal", "legend": null, "scale": {"domain": ["blue","red","lgreen","dgreen","black","cred","cblue"], "range": ["#1f7bcc","#ff1a1a","#92d050","#00b050","#000000","#ff2222","#2222ff"]}}}},
  {"data": {"name": "arrows"}, "transform": [{"filter": "datum.p==='b' && datum.k==='dash'"}],
   "mark": {"type": "point", "shape": "M0,0L-3,-1.3L-3,1.3Z", "filled": true, "size": 36, "opacity": 1},
   "encoding": {"x": {"field": "tx", "type": "quantitative", "axis": null}, "y": {"field": "ty", "type": "quantitative", "axis": null}, "angle": {"field": "hd", "type": "quantitative", "scale": null},
    "color": {"field": "c", "type": "nominal", "legend": null, "scale": {"domain": ["blue","red","lgreen","dgreen","black","cred","cblue"], "range": ["#1f7bcc","#ff1a1a","#92d050","#00b050","#000000","#ff2222","#2222ff"]}}}},
  {"data": {"name": "arrows"}, "transform": [{"filter": "datum.p==='b' && datum.k==='solid'"}],
   "mark": {"type": "point", "shape": "M-3.2,-1.6L0,0L-3.2,1.6", "filled": false, "size": 36, "strokeWidth": 3, "opacity": 1},
   "encoding": {"x": {"field": "tx", "type": "quantitative", "axis": null}, "y": {"field": "ty", "type": "quantitative", "axis": null}, "angle": {"field": "hd", "type": "quantitative", "scale": null},
    "color": {"field": "c", "type": "nominal", "legend": null, "scale": {"domain": ["blue","red","lgreen","dgreen","black","cred","cblue"], "range": ["#1f7bcc","#ff1a1a","#92d050","#00b050","#000000","#ff2222","#2222ff"]}}}}
 ]
},
{
 "width": 446, "height": 178,
 "title": {"text": "(c)", "anchor": "start", "frame": "bounds", "baseline": "middle", "offset": -9, "fontSize": 21, "fontWeight": "normal", "font": "Liberation Sans", "color": "black"},
 "resolve": {"axis": {"x": "independent", "y": "independent"}},
 "layer": [
  {"data": {"name": "c110fit"}, "mark": {"type": "line", "color": "#2222ff", "strokeWidth": 2.5, "strokeDash": [15, 14]},
   "encoding": {
    "x": {"field": "T", "type": "quantitative", "scale": {"domain": [200, 300], "range": [8.4, 446.0], "nice": false, "zero": false},
     "axis": {"orient": "bottom", "title": "Temperature (K)", "values": [200,220,240,260,280,300], "format": "d", "offset": 4, "tickSize": 8, "labelPadding": 13, "titlePadding": 0, "labelFontWeight": "bold"}},
    "y": {"field": "v", "type": "quantitative", "scale": {"domain": [-0.04, 1.045], "range": [178, 12], "nice": false, "zero": false},
     "axis": {"orient": "left", "title": "A\u2080(T)/A\u2080\u2070\u2070\u00b9(100 K)", "titleFont": "Noto Sans", "titleFontSize": 20, "values": [0,0.2,0.4,0.6,0.8,1], "format": ".1f", "offset": 0, "tickSize": 8, "labelPadding": 3, "titlePadding": 26, "labelFontWeight": "bold"}}
   }},
  {"data": {"name": "c110"}, "mark": {"type": "point", "shape": "square", "filled": false, "color": "#5566ff", "strokeWidth": 1.2, "size": 90, "opacity": 0.85},
   "encoding": {"x": {"field": "T", "type": "quantitative", "axis": null}, "y": {"field": "v", "type": "quantitative", "axis": null}}},
  {"data": {"name": "c001fit"}, "mark": {"type": "line", "color": "#ff2222", "strokeWidth": 2},
   "encoding": {
    "x": {"field": "T", "type": "quantitative", "axis": {"orient": "bottom", "values": [200,202,204,206,208,210,212,214,216,218,220,222,224,226,228,230,232,234,236,238,240,242,244,246,248,250,252,254,256,258,260,262,264,266,268,270,272,274,276,278,280,282,284,286,288,290,292,294,296,298,300], "labels": false, "domain": false, "title": null, "tickSize": 5, "offset": 4}},
    "y": {"field": "v", "type": "quantitative", "axis": {"orient": "left", "values": [0,0.05,0.1,0.15,0.2,0.25,0.3,0.35,0.4,0.45,0.5,0.55,0.6,0.65,0.7,0.75,0.8,0.85,0.9,0.95,1], "labels": false, "domain": false, "title": null, "tickSize": 5, "offset": 0}}}},
  {"data": {"name": "c001"}, "mark": {"type": "point", "shape": "circle", "filled": false, "color": "#ff2222", "strokeWidth": 3, "size": 100, "opacity": 1},
   "encoding": {"x": {"field": "T", "type": "quantitative", "axis": null}, "y": {"field": "v", "type": "quantitative", "axis": null}}},
  {"data": {"name": "txt"}, "transform": [{"filter": "datum.p==='c' && datum.f==='up'"}],
   "mark": {"type": "text", "font": "Liberation Sans", "fontSize": 21, "align": "left", "baseline": "middle"},
   "encoding": {"x": {"field": "x", "type": "quantitative", "axis": null}, "y": {"field": "y", "type": "quantitative", "axis": null}, "text": {"field": "s"},
    "color": {"field": "c", "type": "nominal", "legend": null, "scale": {"domain": ["blue","red","lgreen","dgreen","black","cred","cblue"], "range": ["#1f7bcc","#ff1a1a","#92d050","#00b050","#000000","#ff2222","#2222ff"]}}}},
  {"data": {"name": "txt"}, "transform": [{"filter": "datum.p==='c' && datum.f==='bi'"}],
   "mark": {"type": "text", "font": "Liberation Sans", "fontSize": 21, "fontStyle": "italic", "fontWeight": "bold", "align": "left", "baseline": "middle"},
   "encoding": {"x": {"field": "x", "type": "quantitative", "axis": null}, "y": {"field": "y", "type": "quantitative", "axis": null}, "text": {"field": "s"},
    "color": {"field": "c", "type": "nominal", "legend": null, "scale": {"domain": ["blue","red","lgreen","dgreen","black","cred","cblue"], "range": ["#1f7bcc","#ff1a1a","#92d050","#00b050","#000000","#ff2222","#2222ff"]}}}}
 ]
}
]
}
